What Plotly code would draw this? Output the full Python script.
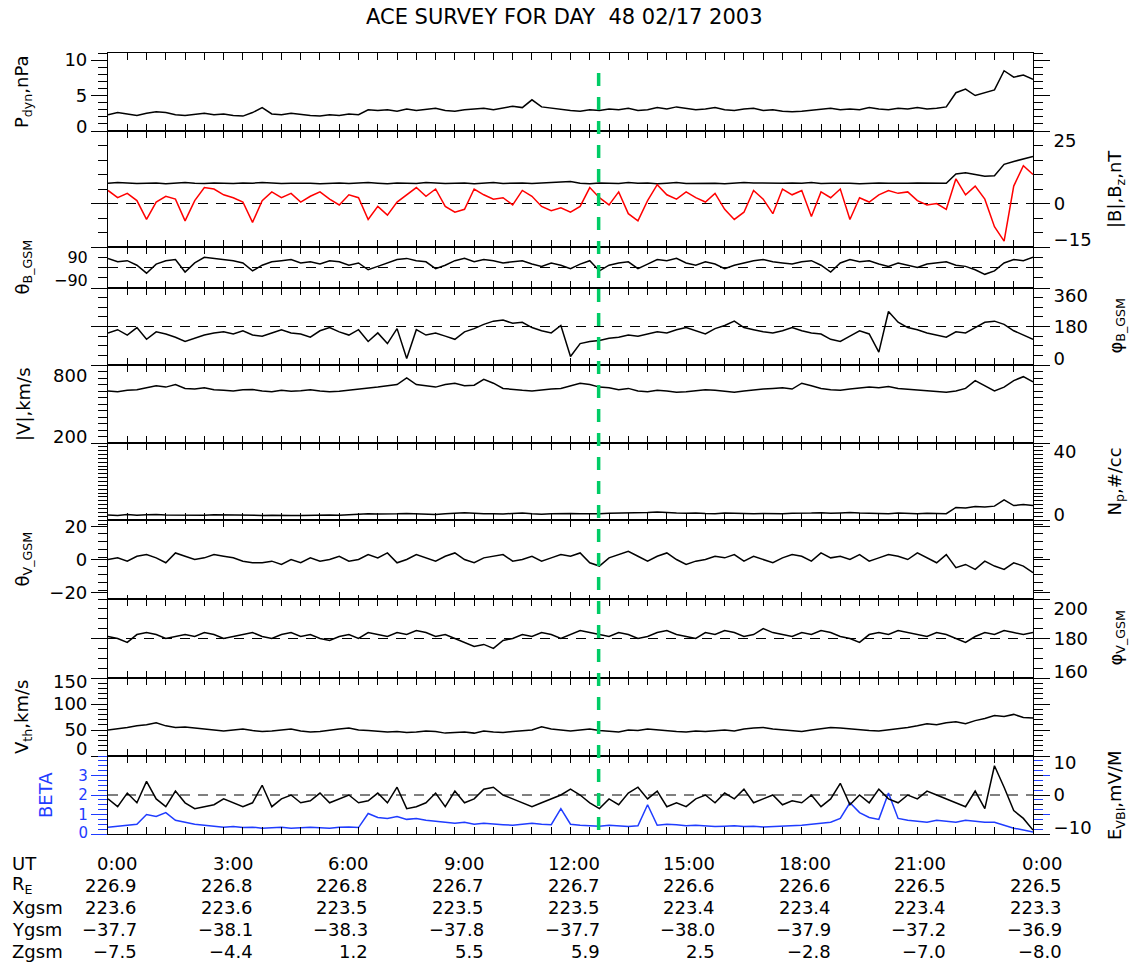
import plotly.graph_objects as go

# ---------------- data (15-minute samples, 0:00 .. 24:00 UT) ----------------
hours = [i * 0.25 for i in range(97)]

p_dyn = [2.3,2.6,2.4,2.2, 2.5,2.7,2.6,2.3, 2.2,2.4,2.5,2.3, 2.4,2.2,2.1,2.6, 3.3,2.4,2.3,2.5, 2.3,2.2,2.1,2.3,
         2.2,2.4,2.3,3.0, 2.9,3.0,2.8,3.1, 2.9,3.0,3.2,2.9, 2.8,3.0,3.1,3.2, 3.0,3.3,3.5,3.3, 4.4,3.4,3.2,3.0,
         2.9,2.8,3.0,2.9, 3.1,3.0,3.2,2.9, 3.0,3.3,3.1,3.4, 3.2,3.0,3.1,3.3, 3.0,2.9,3.1,3.2, 2.9,3.0,2.8,2.7,
         2.8,2.9,3.0,3.2, 3.0,3.1,3.0,3.3, 3.1,3.0,3.2,3.1, 3.3,3.1,3.2,3.4, 5.4,5.9,5.0,5.4, 5.8,8.5,7.6,7.9,
         7.3]

b_mag = [7.0,7.2,7.1,6.9, 7.0,7.1,6.8,7.0, 7.2,7.0,6.9,7.1, 7.0,6.9,7.1,7.0, 7.2,7.0,6.9,7.0, 7.1,7.0,6.8,7.0,
         7.1,6.9,7.0,7.2, 7.0,6.8,7.1,7.0, 6.9,7.2,7.0,6.9, 7.0,7.1,6.8,7.0, 7.2,6.9,7.0,7.1, 6.9,7.0,7.2,7.4,
         7.6,7.0,6.8,7.1, 7.0,6.9,7.2,7.0, 7.1,6.8,7.0,7.2, 6.9,7.0,7.1,7.0, 6.8,7.0,7.2,7.1, 7.0,6.9,7.0,7.1,
         7.0,7.2,6.9,7.0, 7.1,7.0,6.8,7.0, 7.1,7.0,6.9,7.0, 7.1,7.0,7.0,7.0, 10.2,10.6,10.0,9.4, 9.6,13.5,14.5,15.4,
         16.2]

b_z = [4.5,2.0,3.5,1.0, -5.5,0.5,2.5,1.5, -6.0,1.0,5.5,5.0, 3.0,2.0,0.5,-6.5, 1.0,4.0,2.0,3.5, 0.5,2.5,4.0,1.5,
       -0.5,3.0,2.0,-5.5, -1.0,-4.0,0.5,3.0, 5.5,2.5,5.0,-1.0, -3.0,-2.0,5.0,3.0, 1.5,2.0,-0.5,4.5, 2.5,-1.0,-2.5,-1.5,
       -3.0,-1.0,5.5,2.0, -0.5,4.0,-3.5,-6.0, 1.0,6.5,3.0,1.5, 4.0,2.0,0.5,3.5, -2.0,-5.5,-3.0,4.5, 1.5,-3.5,5.0,3.0,
       4.5,-4.5,4.0,2.0, 5.0,-5.5,2.0,0.5, 3.0,4.5,3.5,4.0, 1.0,-0.5,0.0,-2.0, 8.5,3.0,6.0,1.5, -8.0,-13.0,6.0,13.0,
       10.0]

theta_b = [40,25,30,10, -25,15,30,35, -20,20,45,40, 35,30,20,-15, 10,25,30,35, 20,25,15,30,
           25,10,20,-10, 5,20,35,40, 30,25,-5,10, 30,40,25,35, 30,20,25,30, 15,5,20,10,
           -5,15,30,-15, 10,20,25,-5, 15,35,30,40, 20,10,25,15, -5,10,20,30, 35,25,20,15,
           25,30,10,-20, 20,35,25,30, 15,5,20,10, 0,15,20,25, 10,5,-10,-30, -15,20,35,30,
           45]

phi_b = [150,165,140,175, 120,155,145,130, 110,125,140,150, 155,145,160,140, 135,150,165,150, 145,130,160,175,
         155,140,165,110, 150,100,170,30, 165,140,150,135, 120,155,170,190, 205,210,195,200, 175,160,150,185,
         40,100,110,115, 125,130,140,135, 145,155,150,165, 175,160,145,170, 185,205,175,165, 155,150,160,175,
         160,150,145,120, 110,135,160,145, 60,250,200,175, 165,150,140,130, 155,150,175,200, 205,190,160,140,
         120]

v_mag = [600,595,605,610, 625,640,630,650, 620,615,625,610, 605,600,610,612, 600,595,605,598, 602,610,600,595,
         598,605,615,620, 630,640,650,700, 650,640,630,650, 660,640,645,690, 660,620,610,605, 600,610,615,620,
         640,660,650,630, 625,610,620,600, 595,605,600,590, 595,600,610,605, 595,590,600,610, 615,620,625,615,
         660,640,620,610, 605,615,620,630, 625,635,620,615, 610,600,595,590, 600,620,680,640, 600,630,680,710,
         670]

n_p = [2.6,2.4,2.8,2.5, 2.7,2.9,2.6,2.5, 2.4,2.6,2.5,2.7, 2.6,2.4,2.5,2.3, 2.4,2.5,2.6,2.4, 2.3,2.5,2.4,2.6,
       2.5,2.7,3.0,3.3, 3.1,3.0,3.2,3.4, 3.1,3.0,2.9,3.2, 3.4,3.8,3.5,3.2, 3.3,3.1,3.4,3.6, 3.2,3.0,3.3,3.5,
       3.4,3.2,3.1,3.3, 3.5,3.6,3.4,3.7, 3.9,4.2,3.8,3.6, 3.5,3.7,3.4,3.3, 3.6,3.4,3.5,3.3, 3.4,3.2,3.3,3.5,
       3.4,3.6,3.8,3.5, 3.7,3.9,3.6,3.4, 3.5,3.3,3.6,3.4, 3.2,3.5,3.4,3.3, 6.5,6.2,7.0,6.8, 7.2,10.5,7.5,8.0,
       7.5]

theta_v = [0,1,-1,2, 3,1,-2,4, 2,0,1,3, 2,1,-1,-2, -2,-1,-3,0, -2,1,-1,0,
           2,-1,0,3, 1,4,-2,0, 3,1,-1,2, 4,0,-2,1, 2,3,-1,0, 2,-1,1,3,
           2,4,-2,-4, 1,3,5,2, -1,2,4,0, -3,-1,0,2, 1,3,-1,2, 0,-2,1,3,
           2,-1,4,1, 2,0,3,-1, 1,3,2,0, 4,1,-2,3, -5,-3,-6,-1, -4,-6,-2,-4,
           -8]

phi_v = [181,180,178,182, 183,182,180,181, 182,181,183,182, 180,181,182,183, 181,180,182,183, 181,182,180,179,
         181,182,180,183, 182,181,183,182, 184,183,181,182, 180,178,176,177, 175,179,180,182, 181,183,182,180,
         182,184,183,182, 181,183,182,180, 181,183,184,182, 181,180,183,182, 184,183,181,182, 185,183,182,181,
         183,182,184,183, 181,180,178,182, 183,182,184,183, 182,181,183,182, 180,178,181,183, 182,184,183,182,
         183]

v_th = [50,52,55,58, 60,64,58,55, 56,54,52,50, 48,50,52,49, 47,48,50,52, 48,46,47,50,
        52,54,50,49, 48,46,47,45, 46,48,47,44, 45,46,44,48, 46,45,47,49, 50,56,52,50,
        48,50,52,49, 47,46,50,49, 52,50,48,47, 46,48,47,49, 50,48,52,54, 55,52,50,48,
        47,50,52,55, 54,52,50,49, 48,50,52,55, 58,62,60,64, 66,62,68,72, 78,76,80,74,
        73]

e_vbi = [-1,-3,0.5,-2, 3.5,-1,-3,1, -2,-3.5,-3,-2.5, -1,-2,-3,-2, 2.5,-3,-1,0, -2,-1.5,0.5,-2,
         -1,0,-2,-1.5, 0.5,-2,2,-3.5, -3,-2,0.5,-3, 1,-2,-1,1.5, 2,0,-1,-2, -3,-2,-1,0,
         1.5,0,-2,-3.5, -1,-2.5,0.5,2, -1,1,-3,-2, -3,-1,0,-2, 0.5,-1,1.5,-2, -1,0,-2.5,-1.5,
         -2,0,-3,-1, 3,-2.5,0,-2, 1.5,-1,-2,0, -1,1,0,-1, -2,-3,1,-3.5, 7.5,2,-4,-6,
         -9]

beta = [0.35,0.4,0.45,0.5, 1.0,0.9,1.1,0.7, 0.6,0.5,0.45,0.4, 0.35,0.38,0.33,0.35, 0.3,0.32,0.34,0.3, 0.33,0.35,0.32,0.3,
        0.34,0.36,0.33,1.05, 0.85,0.8,0.9,0.75, 0.8,0.7,0.65,0.6, 0.55,0.6,0.5,0.55, 0.5,0.48,0.45,0.5, 0.55,0.5,0.48,1.3,
        0.5,0.45,0.42,0.4, 0.45,0.4,0.38,0.42, 1.5,0.45,0.5,0.48, 0.42,0.45,0.4,0.38, 0.4,0.42,0.38,0.4, 0.36,0.38,0.4,0.42,
        0.45,0.5,0.55,0.6, 0.8,1.6,1.1,0.85, 0.75,2.1,0.8,0.7, 0.65,0.6,0.7,0.65, 0.6,0.7,0.65,0.6, 0.6,0.45,0.3,0.2,
        0.1]

event_hour = 12.73

ut_labels = ["0:00", "3:00", "6:00", "9:00", "12:00", "15:00", "18:00", "21:00", "0:00"]
ut_hours = [0, 3, 6, 9, 12, 15, 18, 21, 24]
re_vals = ["226.9", "226.8", "226.8", "226.7", "226.7", "226.6", "226.6", "226.5", "226.5"]
xgsm_vals = ["223.6", "223.6", "223.5", "223.5", "223.5", "223.4", "223.4", "223.4", "223.3"]
ygsm_vals = ["−37.7", "−38.1", "−38.3", "−37.8", "−37.7", "−38.0", "−37.9", "−37.2", "−36.9"]
zgsm_vals = ["−7.5", "−4.4", "1.2", "5.5", "5.9", "2.5", "−2.8", "−7.0", "−8.0"]

# ---------------- layout geometry ----------------
W, H = 1133, 965
FONT = "DejaVu Sans"
BLACK = "#000000"
BLUE = "#1f3cff"
RED = "#ff0000"
GREEN = "rgb(0,204,102)"
FS = 18

def py(p):
    return 1 - p / H

xdom = [108 / W, 1033 / W]
bounds = [(53, 131), (131, 247), (247, 288), (288, 365), (365, 443),
          (443, 520), (520, 599), (599, 678), (678, 756), (756, 834)]

# inner = labelled ticks inside the range; top/bottom = labelled ticks on the panel
# edges, with the pixel nudge (positive = downwards) keeping their labels inside
panels = [
    dict(range=[0, 11], inner=[5, 10], top=None, bottom=(0, -4), minor=1, side="left",
         title="P<sub>dyn</sub>,nPa"),
    dict(range=[-15, 25], inner=[0], top=(25, 10), bottom=(-15, -7), minor=5, side="right",
         title="|B|,B<sub>z</sub>,nT"),
    dict(range=[-90, 90], inner=[], top=(90, 10), bottom=(-90, -8), minor=45, side="left",
         title="θ<sub>B_GSM</sub>", fs=16),
    dict(range=[0, 360], inner=[180], top=(360, 8), bottom=(0, -6), minor=45, side="right",
         title="φ<sub>B_GSM</sub>"),
    dict(range=[200, 800], inner=[], top=(800, 11), bottom=(200, -6), minor=50, side="left",
         title="|V|,km/s"),
    dict(range=[0, 40], inner=[], top=(40, 9), bottom=(0, -5), minor=2, side="right",
         title="N<sub>p</sub>,#/cc"),
    dict(range=[-24, 24], inner=[-20, 0, 20], top=None, bottom=None, minor=5, side="left",
         title="θ<sub>V_GSM</sub>"),
    dict(range=[160, 200], inner=[180], top=(200, 10), bottom=(160, -6), minor=5, side="right",
         title="φ<sub>V_GSM</sub>"),
    dict(range=[0, 150], inner=[50, 100], top=(150, 4), bottom=(0, -7), minor=10, side="left",
         title="V<sub>th</sub>,km/s"),
    dict(range=[0, 4], inner=[1, 2, 3], top=None, bottom=(0, -1), minor=0.25, side="left",
         title="BETA", fs=15),
]

fig = go.Figure()
layout = dict(
    width=W, height=H,
    margin=dict(l=0, r=0, t=0, b=0, autoexpand=False),
    paper_bgcolor="white", plot_bgcolor="white",
    showlegend=False,
    font=dict(family=FONT, size=FS, color=BLACK),
)

extra_axis = [12]

def edge_label_axis(main_name, anchor_x, dom, rng, side, val, shift, color, fs=FS):
    """Overlay axis carrying one tick label nudged just inside the panel edge."""
    n = extra_axis[0]
    extra_axis[0] += 1
    layout[f"yaxis{n}"] = dict(
        domain=dom, range=rng, anchor=anchor_x, overlaying=main_name, side=side,
        showline=False, ticks="outside", tickvals=[val], ticklen=16, tickwidth=1.2,
        tickcolor=color, ticklabelshift=shift, ticklabeloverflow="allow",
        tickfont=dict(family=FONT, size=fs, color=color), automargin=False,
        showgrid=False, zeroline=False,
    )
    return f"y{n}"

edge_axes = []
for i, ((top, bot), pan) in enumerate(zip(bounds, panels), start=1):
    xa = "xaxis" if i == 1 else f"xaxis{i}"
    ya = "yaxis" if i == 1 else f"yaxis{i}"
    xn = "x" if i == 1 else f"x{i}"
    yn = "y" if i == 1 else f"y{i}"
    is_beta = (i == 10)
    dom = [py(bot), py(top)]
    fs = pan.get("fs", FS)
    layout[xa] = dict(
        domain=xdom, range=[0, 24], anchor=yn, automargin=False,
        showline=True, linecolor=BLACK, linewidth=1.2, mirror="allticks",
        ticks="inside", tickvals=[0, 3, 6, 9, 12, 15, 18, 21, 24], ticklen=7,
        tickwidth=1.2, tickcolor=BLACK, showticklabels=False,
        minor=dict(dtick=0.5, tick0=0, ticks="inside", ticklen=4, tickcolor=BLACK),
        showgrid=False, zeroline=False,
    )
    tc = BLUE if is_beta else BLACK
    layout[ya] = dict(
        domain=dom, range=pan["range"], anchor=xn, side=pan["side"], automargin=False,
        showline=True, linecolor=BLACK, linewidth=1.2, mirror="allticks",
        ticks="outside", tickvals=pan["inner"], ticklen=16, tickwidth=1.2,
        tickcolor=tc, tickfont=dict(family=FONT, size=fs, color=tc),
        minor=dict(dtick=pan["minor"], tick0=pan["range"][0], ticks="outside",
                   ticklen=9, tickcolor=tc),
        showgrid=False, zeroline=False,
    )
    for edge in (pan["top"], pan["bottom"]):
        if edge is not None:
            val, shift = edge
            edge_axes.append((xn, edge_label_axis(yn, xn, dom, pan["range"], pan["side"],
                                                  val, shift, tc, fs)))

# secondary right axis for E_VBI in panel 10
e_dom = [py(834), py(756)]
layout["yaxis11"] = dict(
    domain=e_dom, range=[-10, 10], anchor="x10", overlaying="y10", automargin=False,
    side="right", showline=False, ticks="outside", tickvals=[0],
    ticklen=16, tickwidth=1.2, tickcolor=BLACK,
    tickfont=dict(family=FONT, size=FS, color=BLACK),
    minor=dict(dtick=2.5, tick0=-10, ticks="outside", ticklen=9, tickcolor=BLACK),
    showgrid=False, zeroline=False,
)
edge_axes.append(("x10", edge_label_axis("y10", "x10", e_dom, [-10, 10], "right", 10, 7, BLACK)))
edge_axes.append(("x10", edge_label_axis("y10", "x10", e_dom, [-10, 10], "right", -10, -6, BLACK)))

fig.update_layout(**layout)

# invisible placeholder traces so every label axis is instantiated
for xn, yn in edge_axes:
    fig.add_trace(go.Scatter(x=[None], y=[None], xaxis=xn, yaxis=yn, mode="lines",
                             hoverinfo="skip", showlegend=False))

def add(y, axis_idx, color=BLACK, width=1.5, yname=None):
    xname = "x" if axis_idx == 1 else f"x{axis_idx}"
    if yname is None:
        yname = "y" if axis_idx == 1 else f"y{axis_idx}"
    fig.add_trace(go.Scatter(x=hours, y=y, mode="lines", xaxis=xname, yaxis=yname,
                             line=dict(color=color, width=width), hoverinfo="skip"))

add(p_dyn, 1)
add(b_mag, 2)
add(b_z, 2, color=RED)
add(theta_b, 3)
add(phi_b, 4)
add(v_mag, 5)
add(n_p, 6)
add(theta_v, 7)
add(phi_v, 8)
add(v_th, 9)
add(beta, 10, color=BLUE)
add(e_vbi, 10, yname="y11")

# dashed reference lines
shapes = []
for xr, yr, val in [("x2", "y2", 0), ("x3", "y3", 0), ("x4", "y4", 180),
                    ("x8", "y8", 180), ("x10", "y11", 0)]:
    shapes.append(dict(type="line", xref=xr, yref=yr, x0=0, x1=24, y0=val, y1=val,
                       line=dict(color=BLACK, width=1, dash="10px,8px"), layer="below"))
# green event line
shapes.append(dict(type="line", xref="x", yref="paper", x0=event_hour, x1=event_hour,
                   y0=py(830), y1=py(66),
                   line=dict(color=GREEN, width=3.5, dash="13px,11px")))
fig.update_layout(shapes=shapes)

ann = []
ann.append(dict(text="ACE SURVEY FOR DAY\u00a0 48 02/17 2003", xref="paper", yref="paper",
                x=564 / W, y=py(17), showarrow=False, xanchor="center", yanchor="middle",
                font=dict(family=FONT, size=21, color=BLACK)))

# axis titles
for i, ((top, bot), pan) in enumerate(zip(bounds, panels), start=1):
    xpos = 23 if pan["side"] == "left" else 1116
    col = BLUE if i == 10 else BLACK
    if i == 10:
        xpos = 45
    ann.append(dict(text=pan["title"], xref="paper", yref="paper", x=xpos / W,
                    y=py((top + bot) / 2), textangle=-90, showarrow=False,
                    xanchor="center", yanchor="middle",
                    font=dict(family=FONT, size=FS, color=col)))
ann.append(dict(text="E<sub>VBI</sub>,mV/M", xref="paper", yref="paper", x=1116 / W,
                y=py(795), textangle=-90, showarrow=False, xanchor="center",
                yanchor="middle", font=dict(family=FONT, size=FS, color=BLACK)))

# bottom table
rows = [("UT", ut_labels, 863), ("R<sub>E</sub>", re_vals, 885), ("Xgsm", xgsm_vals, 907),
        ("Ygsm", ygsm_vals, 929), ("Zgsm", zgsm_vals, 951)]
for name, vals, ypx in rows:
    ann.append(dict(text=name, xref="paper", yref="paper", x=10 / W, y=py(ypx),
                    showarrow=False, xanchor="left", yanchor="middle",
                    font=dict(family=FONT, size=FS, color=BLACK)))
    for h, v in zip(ut_hours, vals):
        ann.append(dict(text=v, xref="x10", yref="paper", x=h, y=py(ypx), xshift=31,
                        showarrow=False, xanchor="right", yanchor="middle",
                        font=dict(family=FONT, size=FS, color=BLACK)))

fig.update_layout(annotations=ann)
fig.write_html("out.html")
